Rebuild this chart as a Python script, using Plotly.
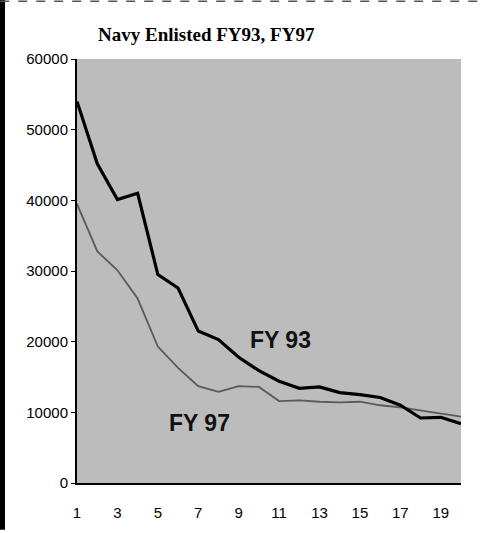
import plotly.graph_objects as go

years = list(range(1, 21))
fy93 = [54000, 45200, 40100, 41000, 29500, 27600, 21500, 20300, 17800, 15900,
        14400, 13400, 13600, 12800, 12500, 12100, 11000, 9200, 9300, 8400]
fy97 = [39500, 32800, 30100, 26100, 19300, 16300, 13700, 12900, 13700, 13600,
        11600, 11700, 11500, 11400, 11500, 11000, 10700, 10300, 9800, 9400]
x_ticks = [1, 3, 5, 7, 9, 11, 13, 15, 17, 19]
y_ticks = [0, 10000, 20000, 30000, 40000, 50000, 60000]
title = "Navy Enlisted FY93, FY97"

fig = go.Figure()
fig.add_trace(go.Scatter(x=years, y=fy97, mode="lines",
                         line=dict(color="#5a5a5a", width=1.8), showlegend=False))
fig.add_trace(go.Scatter(x=years, y=fy93, mode="lines",
                         line=dict(color="#000000", width=3.2), showlegend=False))

fig.add_annotation(x=11.07, y=20300, text="<b>FY 93</b>", showarrow=False,
                   font=dict(family="Liberation Sans, Arial", size=23, color="#111"))
fig.add_annotation(x=7.05, y=8500, text="<b>FY 97</b>", showarrow=False,
                   font=dict(family="Liberation Sans, Arial", size=23, color="#111"))
fig.add_annotation(xref="paper", yref="paper", x=0.336, y=1.058, text="<b>" + title + "</b>",
                   showarrow=False, xanchor="center", yanchor="middle",
                   font=dict(family="Liberation Serif, Times New Roman", size=19, color="#000"))

# left black strip (scan border) and top border
fig.add_shape(type="rect", xref="paper", yref="paper", x0=-0.2005, x1=-0.1875, y0=-0.11, y1=1.14,
              fillcolor="black", line=dict(width=0), layer="above")
fig.add_shape(type="line", xref="paper", yref="paper", x0=-0.2, x1=1.06, y0=1.136, y1=1.136,
              line=dict(color="#555", width=1.5, dash="dash"))

fig.update_layout(
    width=483, height=533,
    margin=dict(l=77, r=22, t=59, b=42),
    paper_bgcolor="white", plot_bgcolor="#bcbcbc",
    font=dict(family="Liberation Sans, Arial", size=15, color="#000"),
)
fig.update_xaxes(range=[1, 20], tickvals=x_ticks, showgrid=False, zeroline=False,
                 showline=True, linecolor="black", linewidth=2,
                 ticks="outside", ticklen=15, tickcolor="rgba(0,0,0,0)",
                 tickfont=dict(size=15))
fig.update_yaxes(range=[0, 60000], tickvals=y_ticks, tickformat="d", showgrid=False,
                 zeroline=False, showline=True, linecolor="black", linewidth=2,
                 ticks="outside", ticklen=4, tickcolor="black", tickfont=dict(size=15))

fig.write_html("out.html", config={"displayModeBar": False},
               post_script="document.body.style.margin='0';document.body.style.overflow='hidden';")
